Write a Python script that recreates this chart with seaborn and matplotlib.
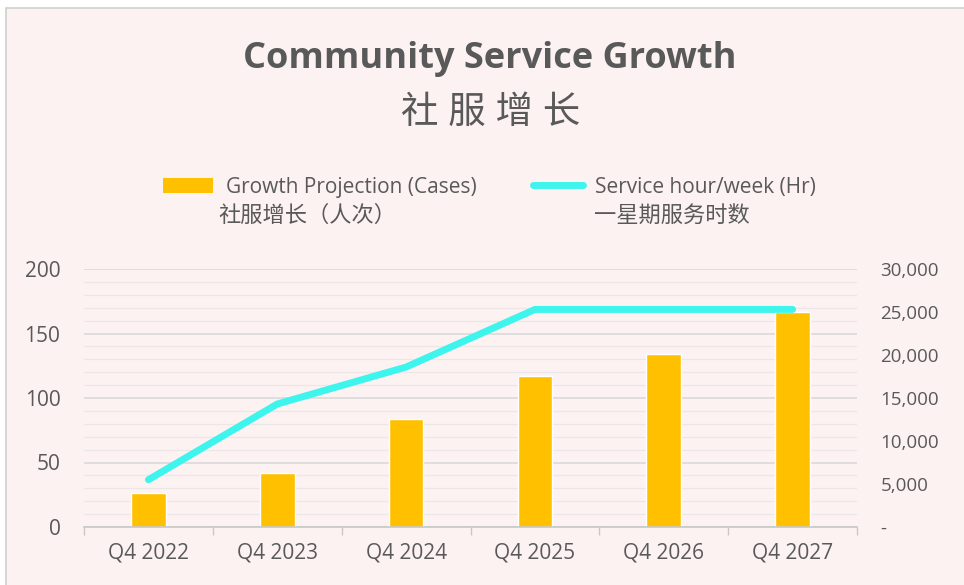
import numpy as np
import pandas as pd
import matplotlib
matplotlib.use("Agg")
import matplotlib.pyplot as plt
import matplotlib.ticker as mticker
from matplotlib.patches import Rectangle, Patch
from matplotlib.lines import Line2D
import seaborn as sns

# data
quarters = ['Q4 2022', 'Q4 2023', 'Q4 2024', 'Q4 2025', 'Q4 2026', 'Q4 2027']
cases = [26, 42, 84, 117, 134, 167]
hours = [5500, 14300, 18600, 25300, 25300, 25300]

bar_label = 'Growth Projection (Cases)'
bar_label_cn = '社服增长（人次）'
line_label = 'Service hour/week (Hr)'
line_label_cn = '一星期服务时数'

sns.set_theme(style='white')
plt.rcParams['font.family'] = ['Open Sans', 'Noto Sans CJK SC', 'DejaVu Sans']

grey = '#595959'
bg = '#FDF2F2'
bar_col = '#FFC000'
line_col = '#3DF5EC'

fig = plt.figure(figsize=(9.64, 5.85), dpi=100, facecolor='white')
fig.patches.append(Rectangle((6/964, -0.02), 1.0, 1 - 8/585 + 0.02, transform=fig.transFigure,
                             facecolor=bg, edgecolor='#D0D0D0', lw=1.2, zorder=-10))

ax = fig.add_axes([84/964, 1 - 527/585, (857 - 84)/964, (527 - 269)/585])
ax.set_facecolor('none')

df = pd.DataFrame({'quarter': quarters, 'cases': cases, 'hours': hours})
sns.barplot(data=df, x='quarter', y='cases', ax=ax, color=bar_col, width=0.27,
            saturation=1, zorder=2)
ax.set_ylim(0, 200)
ax.set_xlim(-0.5, 5.5)
ax.set_yticks(np.arange(0, 201, 50))
ax.set_yticks(np.arange(0, 201, 10), minor=True)
ax.grid(axis='y', which='major', color='#D9D9D9', lw=1.2)
ax.grid(axis='y', which='minor', color='#EDE6E6', lw=0.9)
ax.set_axisbelow(True)
ax.set_xticks(np.arange(-0.5, 6, 1), minor=True)
ax.tick_params(axis='x', which='major', length=0, labelsize=15, labelcolor=grey, pad=11)
ax.tick_params(axis='x', which='minor', length=6, width=1, color='#C8C8C8', bottom=True)
ax.tick_params(axis='y', which='both', length=0, labelsize=15, labelcolor=grey, pad=17)
ax.set_xlabel('')
ax.set_ylabel('')
for s in ['top', 'right', 'left']:
    ax.spines[s].set_visible(False)
ax.spines['bottom'].set_color('#C8C8C8')
ax.spines['bottom'].set_linewidth(1.2)

ax2 = ax.twinx()
sns.lineplot(data=df, x='quarter', y='hours', ax=ax2, color=line_col, lw=5,
             solid_capstyle='round')
ax2.set_ylim(0, 30000)
ax2.set_yticks(np.arange(0, 30001, 5000))
ax2.yaxis.set_major_formatter(mticker.FuncFormatter(lambda v, p: '-' if v == 0 else f'{int(v):,}'))
ax2.tick_params(axis='y', length=0, labelsize=13.5, labelcolor=grey, pad=17)
ax2.set_ylabel('')
for s in ['top', 'right', 'left', 'bottom']:
    ax2.spines[s].set_visible(False)
ax2.grid(False)

fig.text(490/964, 1 - 59/585, 'Community Service Growth', ha='center', va='center',
         fontsize=26, fontweight='bold', color=grey)
fig.text(491/964, 1 - 113/585, '社 服 增 长', ha='center', va='center',
         fontsize=27, color=grey)

handles = [Patch(facecolor=bar_col, edgecolor='none'),
           Line2D([0], [0], color=line_col, lw=5, solid_capstyle='round')]
fig.legend(handles, [bar_label, line_label], loc='center left',
           bbox_to_anchor=(163/964, 1 - 187/585), ncol=2, frameon=False,
           fontsize=15, labelcolor=grey, handlelength=2.4, handletextpad=0.6,
           columnspacing=2.7, borderpad=0, borderaxespad=0)
fig.text(218/964, 1 - 216/585, bar_label_cn, ha='left', va='center', fontsize=16, color=grey)
fig.text(594/964, 1 - 216/585, line_label_cn, ha='left', va='center', fontsize=16, color=grey)

fig.savefig('out.png', dpi=100, facecolor=fig.get_facecolor())
